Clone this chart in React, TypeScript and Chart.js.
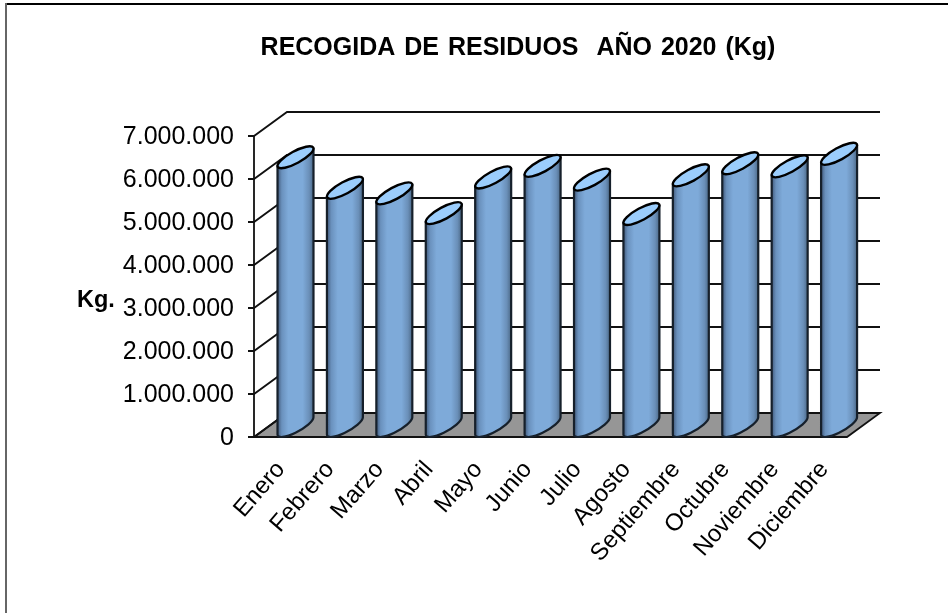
import React, { useEffect, useRef } from "react";
import { Chart, registerables, BarController, BarElement } from "chart.js";

Chart.register(...registerables);

const months = ["Enero","Febrero","Marzo","Abril","Mayo","Junio","Julio","Agosto","Septiembre","Octubre","Noviembre","Diciembre"];
const kilos = [6250000,5540000,5410000,4950000,5780000,6050000,5730000,4930000,5830000,6110000,6040000,6330000];
const titleText = "RECOGIDA DE RESIDUOS  AÑO 2020 (Kg)";
const axisLabel = "Kg.";
const FONT = "'Liberation Sans', Arial, sans-serif";
const DX = 33, DY = 24;

class CylinderBar extends BarElement {
  static id = "cylinderBar";
  draw(ctx: CanvasRenderingContext2D) {
    const { x, y, base, width } = (this as any).getProps(["x", "y", "base", "width"], true);
    const l = x - 1.2, r = l + width;
    const rise = 22;
    const cx = (l + r) / 2;
    const major = 20.2, minor = 6;
    const rot = -28.5 * Math.PI / 180;
    const tR = Math.atan2(-minor * Math.sin(rot), major * Math.cos(rot));
    const tL = tR + Math.PI;
    const ptY = (cy: number, t: number) => cy + major * Math.cos(t) * Math.sin(rot) + minor * Math.sin(t) * Math.cos(rot);
    const g = ctx.createLinearGradient(l, 0, r, 0);
    g.addColorStop(0, "#41597a");
    g.addColorStop(0.12, "#6a91bd");
    g.addColorStop(0.3, "#7eaad9");
    g.addColorStop(0.7, "#7eaad9");
    g.addColorStop(0.88, "#6a8fb8");
    g.addColorStop(1, "#4b6886");
    const topCy = y - rise / 2, baseCy = base - rise / 2;
    ctx.save();
    ctx.lineJoin = "round";
    ctx.beginPath();
    ctx.moveTo(l, ptY(topCy, tL));
    ctx.lineTo(l, ptY(baseCy, tL));
    ctx.ellipse(cx, baseCy, major, minor, rot, tL, tR, true);
    ctx.lineTo(r, ptY(topCy, tR));
    ctx.closePath();
    ctx.fillStyle = g;
    ctx.fill();
    ctx.strokeStyle = "#16202b";
    ctx.lineWidth = 2.2;
    ctx.stroke();
    ctx.beginPath();
    ctx.ellipse(cx, topCy, major, minor, rot, 0, Math.PI * 2);
    ctx.fillStyle = "#9bcdfc";
    ctx.fill();
    ctx.strokeStyle = "#000000";
    ctx.lineWidth = 2.4;
    ctx.stroke();
    ctx.restore();
  }
}

class CylinderController extends BarController {
  static id = "cylinder";
  static defaults = { ...BarController.defaults, dataElementType: "cylinderBar" };
  static overrides = BarController.overrides;
}
Chart.register(CylinderBar as any, CylinderController as any);

const walls = {
  id: "walls",
  afterLayout(chart: any) {
    chart.titleBlock.left = 89;
    chart.titleBlock.right = 947;
  },
  beforeDraw(chart: any) {
    const { ctx, width, height, scales, chartArea } = chart;
    ctx.wordSpacing = "2px";
    scales.y.getLabelItems(chartArea).forEach((i: any) => { i.options.translation[1] += 1.5; });
    scales.x.getLabelItems(chartArea).forEach((i: any) => { i.options.translation[0] += 2; });
    ctx.save();
    ctx.fillStyle = "#ffffff";
    ctx.fillRect(0, 0, width, height);
    ctx.fillStyle = "#000000";
    ctx.fillRect(5, 3, width - 5, 2);
    ctx.fillStyle = "#666666";
    ctx.fillRect(5, 3, 2, height - 3);
    ctx.restore();
  },
  beforeDatasetsDraw(chart: any) {
    const { ctx, scales, chartArea } = chart;
    const { left, right, bottom } = chartArea;
    const ys = scales.y;
    ctx.save();
    ctx.beginPath();
    ctx.moveTo(left, bottom);
    ctx.lineTo(right, bottom);
    ctx.lineTo(right + DX, bottom - DY);
    ctx.lineTo(left + DX, bottom - DY);
    ctx.closePath();
    ctx.fillStyle = "#969696";
    ctx.fill();
    ctx.strokeStyle = "#111111";
    ctx.lineWidth = 1.8;
    ctx.stroke();
    ys.ticks.forEach((t: any) => {
      const py = ys.getPixelForValue(t.value);
      ctx.beginPath();
      ctx.moveTo(left - 6, py);
      ctx.lineTo(left, py);
      ctx.lineTo(left + DX, py - DY);
      ctx.lineTo(right + DX, py - DY);
      ctx.stroke();
    });
    ctx.beginPath();
    ctx.moveTo(left, ys.getPixelForValue(ys.max));
    ctx.lineTo(left, bottom);
    ctx.lineTo(right, bottom);
    ctx.stroke();
    ctx.font = "bold 23.5px " + FONT;
    ctx.fillStyle = "#000000";
    ctx.textBaseline = "middle";
    ctx.fillText(axisLabel, 77, 301);
    ctx.restore();
  },
};

export default function App() {
  const ref = useRef<HTMLCanvasElement>(null);
  useEffect(() => {
    const chart = new Chart(ref.current!, {
      type: "cylinder" as any,
      plugins: [walls],
      data: {
        labels: months,
        datasets: [{ data: kilos, backgroundColor: "#7eaad9", barThickness: 36, clip: false } as any],
      },
      options: {
        animation: false,
        responsive: false,
        layout: { padding: { top: 0, left: 0, right: 101, bottom: 0 } },
        plugins: {
          legend: { display: false },
          tooltip: { enabled: false },
          title: {
            display: true,
            text: titleText,
            color: "#000000",
            font: { family: FONT, size: 25, weight: "bold" },
            padding: { top: 33, bottom: 73 },
            align: "center",
          },
        },
        scales: {
          x: {
            grid: { display: false },
            border: { display: false },
            afterFit: (s: any) => { s.height = 176; },
            ticks: {
              color: "#000000",
              font: { family: FONT, size: 24 },
              minRotation: 49,
              maxRotation: 49,
              padding: 11,
              autoSkip: false,
            },
          },
          y: {
            min: 0,
            max: 7000000,
            grid: { display: false },
            border: { display: false },
            afterFit: (s: any) => { s.width = 254; },
            ticks: {
              stepSize: 1000000,
              color: "#000000",
              padding: 12,
              font: { family: FONT, size: 25 },
              callback: (v: any) => Number(v).toLocaleString("de-DE"),
            },
          },
        },
      },
    } as any);
    return () => chart.destroy();
  }, []);
  return (
    <div style={{ position: "absolute", left: 0, top: 0, width: 948, height: 613 }}>
      <canvas ref={ref} width={948} height={613} style={{ display: "block" }} />
    </div>
  );
}
